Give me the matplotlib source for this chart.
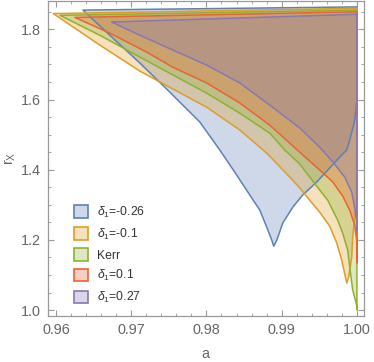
import numpy as np
import matplotlib.pyplot as plt
from matplotlib.patches import Patch

plt.rcParams['font.family'] = ['Liberation Sans', 'DejaVu Sans']
plt.rcParams['mathtext.fontset'] = 'custom'
plt.rcParams['mathtext.rm'] = 'Liberation Sans'
plt.rcParams['mathtext.it'] = 'Liberation Sans:italic'

# region boundaries (a, r_X)
blue_a = [0.96359, 1.0, 1.0, 0.99971, 0.99904, 0.99865, 0.99772, 0.99639, 0.99466, 0.99280,
          0.99147, 0.99015, 0.98935, 0.98895, 0.98869, 0.98802, 0.98709, 0.98576, 0.98377,
          0.98178, 0.97912, 0.97514, 0.97116, 0.96717]
blue_r = [1.855, 1.864, 1.598, 1.541, 1.484, 1.456, 1.436, 1.405, 1.365, 1.328,
          1.293, 1.248, 1.199, 1.182, 1.199, 1.236, 1.285, 1.328, 1.393,
          1.456, 1.536, 1.621, 1.704, 1.783]

orange_a = [0.95964, 1.0, 1.0, 0.9999, 0.99984, 0.99971, 0.99944, 0.99931, 0.99891, 0.99865,
            0.99838, 0.99798, 0.99732, 0.99639, 0.99506, 0.99373, 0.99240, 0.99108, 0.98802,
            0.98444, 0.98005, 0.97554, 0.97116, 0.96584]
orange_r = [1.845, 1.860, 1.541, 1.399, 1.328, 1.265, 1.208, 1.151, 1.094, 1.077,
            1.103, 1.143, 1.191, 1.239, 1.279, 1.313, 1.348, 1.379, 1.447,
            1.513, 1.578, 1.630, 1.681, 1.755]

green_a = [0.96053, 1.0, 1.0, 0.99997, 0.99944, 0.99904, 0.99878, 0.99811, 0.99745, 0.99612,
           0.99466, 0.99240, 0.99041, 0.98842, 0.98444, 0.98005, 0.97554, 0.97116, 0.96584]
green_r = [1.840, 1.855, 1.000, 1.014, 1.057, 1.123, 1.171, 1.219, 1.256, 1.313,
           1.353, 1.416, 1.456, 1.504, 1.561, 1.618, 1.670, 1.721, 1.783]

red_a = [0.96252, 1.0, 1.0, 0.99997, 0.99971, 0.99904, 0.99811, 0.99679, 0.99506, 0.99240,
         0.98842, 0.98444, 0.98005, 0.97554, 0.97208, 0.96717]
red_r = [1.834, 1.850, 1.134, 1.199, 1.242, 1.285, 1.325, 1.365, 1.399, 1.450,
         1.527, 1.590, 1.647, 1.692, 1.735, 1.789]

purple_a = [0.96739, 1.0, 1.0, 0.99997, 0.99971, 0.99931, 0.99838, 0.99679, 0.99506, 0.99240,
            0.98842, 0.98444, 0.98005, 0.97554, 0.97116]
purple_r = [1.821, 1.843, 1.228, 1.251, 1.291, 1.336, 1.379, 1.422, 1.464, 1.519,
            1.584, 1.647, 1.698, 1.741, 1.783]

labels = ['$\\delta_1$=-0.26', '$\\delta_1$=-0.1', 'Kerr', '$\\delta_1$=0.1', '$\\delta_1$=0.27']
colors = ['#5E81B5', '#E19C24', '#8FB032', '#EB6235', '#8778B3']
regions = [(blue_a, blue_r), (orange_a, orange_r), (green_a, green_r),
           (red_a, red_r), (purple_a, purple_r)]

fig = plt.figure(figsize=(3.74, 3.62), dpi=100)
ax = fig.add_axes([0.1275, 0.127, 0.8455, 0.870])

for (xa, yr), c in zip(regions, colors):
    ax.fill(xa, yr, facecolor=c, alpha=0.3, edgecolor='none', zorder=2)
    ax.fill(xa, yr, facecolor='none', edgecolor=c, linewidth=1.1, zorder=3, joinstyle='round')

ax.set_xlim(0.9589, 1.00093)
ax.set_ylim(0.983, 1.8806)
ax.set_xticks(np.arange(0.96, 1.0001, 0.01))
ax.set_xticks(np.arange(0.96, 1.0001, 0.002), minor=True)
ax.set_yticks(np.arange(1.0, 1.801, 0.2))
ax.set_yticks(np.arange(1.0, 1.851, 0.05), minor=True)
ax.set_xticklabels(['0.96', '0.97', '0.98', '0.99', '1.00'])
ax.set_yticklabels(['1.0', '1.2', '1.4', '1.6', '1.8'])

gray = '#999999'
for s in ax.spines.values():
    s.set_color(gray)
    s.set_linewidth(0.9)
ax.tick_params(which='both', direction='in', top=True, right=True, color=gray,
               labelcolor='#666666', labelsize=10.4)
ax.tick_params(which='major', length=4, width=0.8, pad=5)
ax.tick_params(which='minor', length=2.3, width=0.6)

ax.set_xlabel('a', fontsize=10.4, color='#666666', labelpad=7)
ax.set_ylabel('$\\mathregular{r_X}$', fontsize=10.4, color='#666666', labelpad=2)

handles = [Patch(facecolor=c + '4D', edgecolor=c, linewidth=1.2) for c in colors]
ax.legend(handles, labels, loc='lower left', bbox_to_anchor=(0.083, 0.035), frameon=False,
          fontsize=8.7, handlelength=1.2, handleheight=1.2, labelspacing=0.55,
          handletextpad=0.75, borderaxespad=0, borderpad=0, labelcolor='#333333')

fig.savefig('out.png', dpi=100)
